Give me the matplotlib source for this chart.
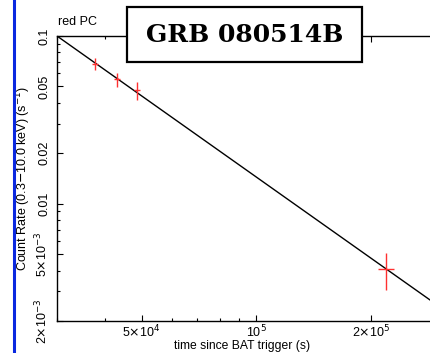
import matplotlib
matplotlib.use("Agg")
import matplotlib.pyplot as plt
from matplotlib.patches import Rectangle
from matplotlib.ticker import FixedLocator, LogLocator, NullFormatter

plt.rcParams["font.family"] = ["Liberation Sans", "DejaVu Sans"]

# light curve points
t = [3.77e4, 4.32e4, 4.86e4, 2.18e5]
t_err_lo = [700, 800, 900, 1.02e4]
t_err_hi = [700, 800, 900, 1.08e4]
rate = [0.0681, 0.0552, 0.0477, 4.06e-3]
rate_lo = [0.0627, 0.0497, 0.0415, 3.05e-3]
rate_hi = [0.0740, 0.0602, 0.0532, 5.08e-3]

# power-law fit line (end points)
fit_t = [3.0e4, 2.85e5]
fit_rate = [0.1, 2.67e-3]

yticks = [0.1, 0.05, 0.02, 0.01, 5e-3, 2e-3]
ylabels = ["0.1", "0.05", "0.02", "0.01", r"5$\times$10$^{-3}$", r"2$\times$10$^{-3}$"]
xticks = [5e4, 1e5, 2e5]
xlabels = [r"5$\times$10$^4$", r"10$^5$", r"2$\times$10$^5$"]

fig = plt.figure(figsize=(4.30, 3.53), dpi=100)
W, H = 430, 353
ax = fig.add_axes([57 / W, 1 - 321 / H, (W - 57) / W, (321 - 36) / H])

ax.plot(fit_t, fit_rate, color="black", lw=1.0, zorder=2)
yerr = [[r - lo for r, lo in zip(rate, rate_lo)], [hi - r for r, hi in zip(rate, rate_hi)]]
ax.errorbar(t, rate, xerr=[t_err_lo, t_err_hi], yerr=yerr, fmt="none",
            ecolor="#ff3030", elinewidth=1.0, capsize=0, zorder=3)

ax.set_xscale("log")
ax.set_yscale("log")
ax.set_xlim(3.0e4, 2.85e5)
ax.set_ylim(2e-3, 0.1)

ax.yaxis.set_major_locator(FixedLocator(yticks))
ax.set_yticklabels(ylabels, rotation=90, va="center", fontsize=9)
ax.yaxis.set_minor_locator(LogLocator(base=10, subs=range(1, 10)))
ax.yaxis.set_minor_formatter(NullFormatter())
ax.xaxis.set_major_locator(FixedLocator(xticks))
ax.set_xticklabels(xlabels, fontsize=9)
ax.xaxis.set_minor_locator(LogLocator(base=10, subs=range(1, 10)))
ax.xaxis.set_minor_formatter(NullFormatter())

ax.tick_params(which="both", direction="in", top=True, right=False, width=0.8, pad=2)
ax.tick_params(axis="y", which="both", pad=5)
ax.tick_params(which="major", length=4)
ax.tick_params(which="minor", length=2.5)
for side in ["left", "bottom", "top"]:
    ax.spines[side].set_linewidth(1.0)
ax.spines["right"].set_visible(False)

ax.set_ylabel(r"Count Rate (0.3$-$10.0 keV) (s$^{-1}$)", fontsize=9,
              ha="center", va="center")
ax.yaxis.set_label_coords(-(57 - 23) / (W - 57), 0.5)
ax.set_xlabel("time since BAT trigger (s)", fontsize=8.7, va="center")
ax.xaxis.set_label_coords((242 - 57) / (W - 57), -(346 - 321) / (321 - 36))

fig.text(58 / W, 1 - 22 / H, "red PC", fontsize=9, va="center", ha="left")

# label box
box = Rectangle((127 / W, 1 - 62 / H), 235 / W, 55 / H, transform=fig.transFigure,
                facecolor="white", edgecolor="black", lw=1.6, zorder=10)
fig.patches.append(box)
fig.text(244.5 / W, 1 - 35 / H, "GRB 080514B", fontsize=18, family="DejaVu Serif",
         weight="bold", ha="center", va="center", zorder=11)

# blue edge line
fig.add_artist(plt.Line2D([14 / W, 14 / W], [0, 1], transform=fig.transFigure,
                          color="#0a28e0", lw=2.2))

fig.savefig("out.png", dpi=100)
